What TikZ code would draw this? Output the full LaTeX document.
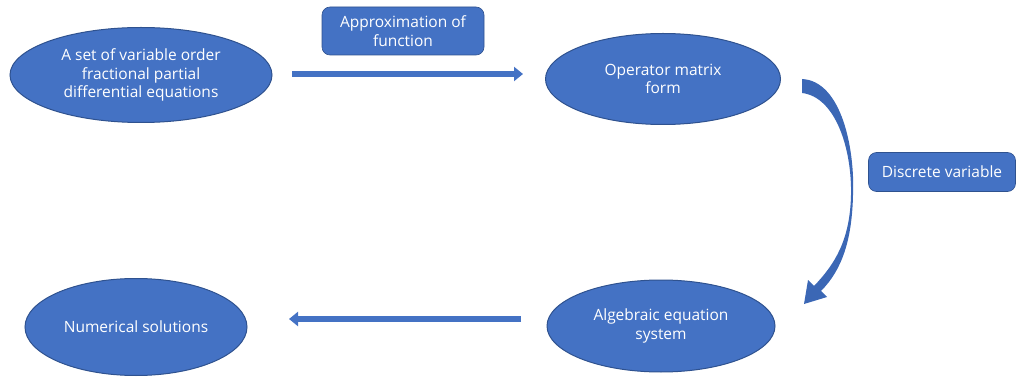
\documentclass[tikz,border=0pt]{standalone}
\usepackage{fontspec}
\setmainfont{Open Sans}
\usetikzlibrary{arrows.meta,shapes.geometric}
\definecolor{blueF}{HTML}{4472C4}
\definecolor{blueD}{HTML}{2F528F}
\definecolor{blueA}{HTML}{3B67B5}
\begin{document}
\begin{tikzpicture}[x=1pt,y=-1pt,
  ell/.style={ellipse,fill=blueF,draw=blueD,line width=1pt,text=white,align=center,font=\fontsize{15.5}{18.5}\selectfont,inner sep=0pt},
  lbl/.style={rounded corners=8pt,fill=blueF,draw=blueD,line width=0.6pt,text=white,align=center,font=\fontsize{15.5}{18.5}\selectfont,inner sep=0pt},
  flow/.style={draw=blueF,line width=5.5pt,-{Triangle[length=9pt,width=14pt]}}]
\useasboundingbox (0,0) rectangle (1017,382);
\node[ell,minimum width=262pt,minimum height=95pt] (pde) at (141,75) {A set of variable order\\fractional partial\\differential equations};
\node[ell,minimum width=235pt,minimum height=91pt] (op) at (663,79) {Operator matrix\\form};
\node[ell,minimum width=222pt,minimum height=97pt] (num) at (136,327) {Numerical solutions};
\node[ell,minimum width=228pt,minimum height=92pt] (alg) at (661,326) {Algebraic equation\\system};
\node[lbl,minimum width=162pt,minimum height=48pt] (approx) at (403,31) {Approximation of\\function};
\node[lbl,minimum width=147pt,minimum height=39pt] (disc) at (942,172) {Discrete variable};
\coordinate (a1) at (292,74);
\coordinate (a2) at (523,74);
\draw[flow] (a1) -- (a2);
\coordinate (b1) at (521,319);
\coordinate (b2) at (289,319);
\draw[flow] (b1) -- (b2);
% curved arrow
\fill[blueA] (802,79) .. controls (842,81) and (855,150) .. (853,195)
  .. controls (852,240) and (842,270) .. (821,291)
  -- (827,297) -- (804,304) -- (808,280) -- (814,286)
  .. controls (835,264) and (850,240) .. (851,195)
  .. controls (852,150) and (836,97) .. (802,93) -- cycle;
\end{tikzpicture}
\end{document}
